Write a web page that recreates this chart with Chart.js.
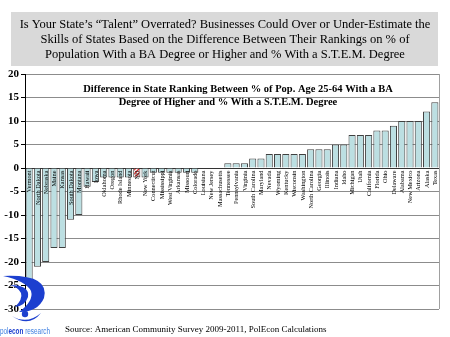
<!DOCTYPE html>
<html><head><meta charset="utf-8">
<script src="https://cdn.jsdelivr.net/npm/chart.js@4"></script>
<style>html,body{margin:0;padding:0;background:#fff}#wrap{width:450px;height:337px;position:relative}</style>
</head><body><div id="wrap"><canvas id="c" width="450" height="337"></canvas></div>
<script>
const states = ["Vermont","North Dakota","Nebraska","Maine","Kansas","South Dakota","Montana","Hawaii","Iowa","Oklahoma","Oregon","Rhode Island","Minnesota","NH","New York","Connecticut","Mississippi","West Virginia","Arkansas","Missouri","Colorado","Louisiana","New Jersey","Massachusetts","Tennessee","Pennsylvania","Virginia","South Carolina","Maryland","Nevada","Wyoming","Kentucky","Wisconsin","Washington","North Carolina","Georgia","Illinois","Indiana","Idaho","Michigan","Utah","California","Florida","Ohio","Delaware","Alabama","New Mexico","Arizona","Alaska","Texas"];
const rankDiff = [-24,-21,-20,-17,-17,-11,-10,-4,-3,-2,-2,-2,-2,-2,-2,-1,-1,-1,-1,-1,-1,0,0,0,1,1,1,2,2,3,3,3,3,3,4,4,4,5,5,7,7,7,8,8,9,10,10,10,12,14];
const highlighted = ["NH"];
const yMin = -30, yMax = 20, yStep = 5;
const titleLines = ["Is Your State\u2019s \u201cTalent\u201d Overrated? Businesses Could Over or Under-Estimate the","Skills of States Based on the Difference Between Their Rankings on % of","Population With a BA Degree or Higher and % With a S.T.E.M. Degree"];
const chartTitleLines = ["Difference in State Ranking Between % of Pop. Age 25-64 With a BA","Degree of Higher and % With a S.T.E.M. Degree"];
const sourceText = "Source: American Community Survey 2009-2011, PolEcon Calculations";

const canvas = document.getElementById('c');
const ctx0 = canvas.getContext('2d');
function hatch(){
  const c = document.createElement('canvas'); c.width = 4; c.height = 4;
  const x = c.getContext('2d');
  x.fillStyle = '#fff'; x.fillRect(0,0,4,4);
  x.strokeStyle = '#d42a2a'; x.lineWidth = 1.4;
  x.beginPath(); x.moveTo(0,4); x.lineTo(4,0); x.moveTo(-1,1); x.lineTo(1,-1); x.moveTo(3,5); x.lineTo(5,3); x.stroke();
  return ctx0.createPattern(c,'repeat');
}
const hatchPattern = hatch();
const barColors = states.map(s => highlighted.includes(s) ? hatchPattern : '#bcdfe2');

const SERIF = '"Liberation Serif","Times New Roman",serif';

const extras = {
  id: 'extras',
  beforeDraw(chart){
    const c = chart.ctx;
    c.save();
    c.fillStyle = '#fff'; c.fillRect(0,0,chart.width,chart.height);
    c.fillStyle = '#d9d9d9'; c.fillRect(11,12,427,54);
    c.fillStyle = '#000'; c.textAlign = 'center'; c.textBaseline = 'middle';
    c.font = '12.5px ' + SERIF;
    const ys = [25,40,55];
    titleLines.forEach((t,i) => c.fillText(t, 225, ys[i]));
    c.restore();
  },
  afterDatasetsDraw(chart){
    const c = chart.ctx, xs = chart.scales.x, ys = chart.scales.y;
    const y0 = ys.getPixelForValue(0);
    c.save();
    c.fillStyle = '#000'; c.font = '6.3px ' + SERIF;
    c.textAlign = 'right'; c.textBaseline = 'middle';
    states.forEach((s,i) => {
      const x = xs.getPixelForValue(i);
      c.save(); c.translate(x, y0 + 2.5); c.rotate(-Math.PI/2);
      c.fillText(s, 0, 0.5);
      c.restore();
    });
    c.restore();
  },
  afterDraw(chart){
    const c = chart.ctx, a = chart.chartArea;
    c.save();
    c.strokeStyle = '#a0a0a0'; c.lineWidth = 1;
    c.beginPath(); c.moveTo(Math.round(a.right)+0.5, a.top); c.lineTo(Math.round(a.right)+0.5, a.bottom); c.stroke();
    c.fillStyle = '#000'; c.textAlign = 'center'; c.textBaseline = 'middle';
    c.font = 'bold 10.5px ' + SERIF;
    c.fillText(chartTitleLines[0], 238, 89);
    c.fillText(chartTitleLines[1], 228, 102);
    c.textAlign = 'left'; c.font = '9px ' + SERIF;
    c.fillText(sourceText, 65, 330);
    // logo
    c.fillStyle = '#1c3fcf';
    c.beginPath();
    c.moveTo(3,276); c.quadraticCurveTo(50,274,44,298); c.quadraticCurveTo(38,312,19,312);
    c.quadraticCurveTo(34,301,31,291); c.quadraticCurveTo(26,281,3,276); c.fill();
    c.beginPath();
    c.moveTo(10,285); c.quadraticCurveTo(30,285,28,297); c.quadraticCurveTo(25,306,15,307);
    c.quadraticCurveTo(23,299,21,293); c.quadraticCurveTo(18,287,10,285); c.fill();
    c.beginPath(); c.arc(25,314,3.2,0,Math.PI*2); c.fill();
    c.beginPath(); c.moveTo(12,316); c.quadraticCurveTo(27,325,41,313); c.quadraticCurveTo(29,328,12,316); c.fill();
    c.textBaseline = 'middle';
    const parts = [["pol","normal","#3b7ee0"],["econ","bold","#1c3fcf"],[" research","normal","#3b7ee0"]];
    let total = 0;
    parts.forEach(p => { c.font = p[1] + ' 8.5px "Liberation Sans",Arial,sans-serif'; total += c.measureText(p[0]).width; });
    const sx = 50 / total;
    c.translate(0, 332); c.scale(sx, 1);
    let x = 0;
    parts.forEach(p => { c.font = p[1] + ' 8.5px "Liberation Sans",Arial,sans-serif'; c.fillStyle = p[2]; c.fillText(p[0], x, 0); x += c.measureText(p[0]).width; });
    c.restore();
  }
};

new Chart(canvas, {
  type: 'bar',
  data: {
    labels: states,
    datasets: [{
      data: rankDiff,
      backgroundColor: barColors,
      borderColor: '#404040',
      borderWidth: 1,
      barPercentage: 0.86,
      categoryPercentage: 1
    }]
  },
  options: {
    responsive: false,
    animation: false,
    devicePixelRatio: 1,
    layout: { padding: { left: 0, top: 74, right: 11, bottom: 28 } },
    plugins: { legend: { display: false }, title: { display: false }, tooltip: { enabled: false } },
    scales: {
      x: {
        type: 'category',
        position: { y: 0 },
        offset: true,
        z: 1,
        grid: { display: false, drawTicks: false, tickLength: 0 },
        border: { display: true, color: '#333', width: 1 },
        ticks: { display: false },
        afterFit(s) { s.height = 0; }
      },
      y: {
        min: yMin, max: yMax,
        ticks: { stepSize: yStep, color: '#000', padding: 2, font: { family: SERIF, size: 11, weight: 'bold' } },
        grid: { color: '#8c8c8c', tickLength: 4, tickColor: '#000' },
        border: { color: '#000' },
        afterFit(s) { s.width = 25; }
      }
    }
  },
  plugins: [extras]
});
</script>
</body></html>
